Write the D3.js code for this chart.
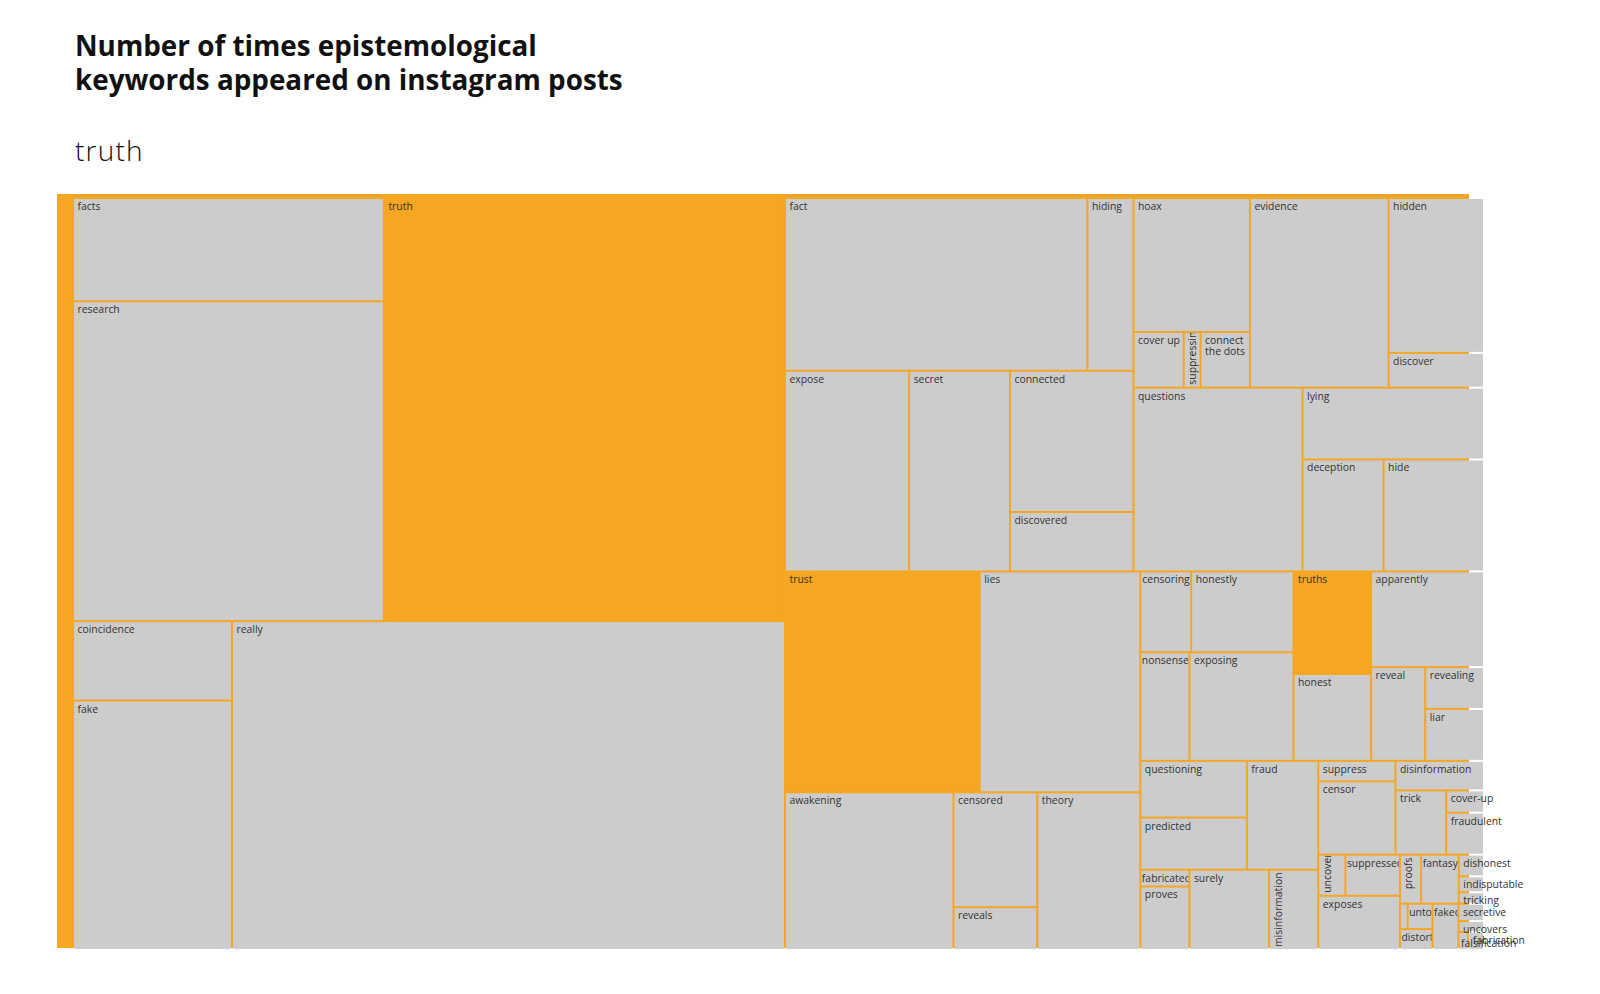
<!DOCTYPE html>
<html>
<head>
<meta charset="utf-8">
<script src="https://cdn.jsdelivr.net/npm/d3@7"></script>
<style>
  body { margin: 0; background: #fff; }
  svg { display: block; }
</style>
</head>
<body>
<svg id="chart" width="1600" height="994"></svg>
<script>
// ---- data (order matters: binary tiling keeps the given order) ----
const titleLines = ["Number of times epistemological", "keywords appeared on instagram posts"];
const subtitle = "truth";
const highlighted = ["truth", "trust", "truths"];

const keywords = [
  "facts", "research", "truth", "coincidence", "fake", "really",
  "fact", "hiding", "expose", "secret", "connected", "discovered",
  "hoax", "cover up", "suppressing", "connect the dots", "evidence", "hidden", "discover",
  "questions", "lying", "deception", "hide",
  "trust", "lies", "awakening", "censored", "reveals", "theory",
  "censoring", "honestly", "nonsense", "exposing", "truths", "honest",
  "apparently", "reveal", "revealing", "liar",
  "questioning", "predicted", "fraud", "fabricated", "proves", "surely", "misinformation",
  "suppress", "censor", "disinformation", "trick", "cover-up", "fraudulent",
  "uncover", "suppressed", "exposes",
  "proofs", "fantasy", "dishonest", "indisputable", "tricking",
  "(unlabelled)", "untold", "distort", "faked",
  "secretive", "uncovers", "falsification", "fabrication"
];

const counts = [
  31982, 99050, 169011, 12577, 39509, 181122,
  52035, 7926, 24825, 20160, 17373, 7312,
  15549, 2786, 932, 2736, 26185, 14724, 3307,
  30941, 12974, 9037, 11204,
  42848, 35358, 26457, 9584, 3574, 16192,
  4091, 8239, 5307, 11242, 7928, 6719,
  10763, 5049, 2448, 3041,
  6012, 5533, 7747, 818, 3102, 6376, 3928,
  1579, 5636, 2602, 3242, 841, 1580,
  1112, 2237, 4414,
  1035, 1839, 545, 400, 288,
  194, 630, 678, 1195,
  440, 280, 175, 281
];

// ---- styling ----
const ORANGE = "#F5A623";
const GRAY = "#CCCCCC";
const LABEL_FONT = "'Open Sans', sans-serif";

const svg = d3.select("#chart");
const defs = svg.append("defs");

// Title
const titleG = svg.append("g").attr("fill", "#111");
const tl = titleLines.map((line, i) =>
  titleG.append("text")
    .attr("x", 75)
    .attr("y", 56 + i * 34)
    .style("font-family", LABEL_FONT)
    .style("font-weight", 700)
    .style("font-size", "27px")
    .text(line)
);
const w2 = tl[1].node().getComputedTextLength();
const fs = Math.max(23, Math.min(28, 27 * 548 / w2));
tl.forEach(t => t.style("font-size", fs + "px"));

svg.append("text")
  .attr("x", 75)
  .attr("y", 161)
  .attr("fill", "#111")
  .style("font-family", LABEL_FONT)
  .style("font-weight", 300)
  .style("font-size", "28px")
  .style("letter-spacing", "1.2px")
  .text(subtitle);

// Background panel
svg.append("rect")
  .attr("x", 57).attr("y", 194)
  .attr("width", 1412).attr("height", 754)
  .attr("fill", ORANGE);

// Treemap
const W = 1409, H = 750;
const root = d3.hierarchy({ children: keywords.map((k, i) => ({ name: k, value: counts[i] })) })
  .sum(d => d.value || 0);

d3.treemap()
  .tile(d3.treemapBinary)
  .size([W, H])
  .paddingInner(2)(root);

const g = svg.append("g").attr("transform", "translate(74,199)");
const leaves = root.leaves();

g.append("g").selectAll("rect")
  .data(leaves)
  .join("rect")
  .attr("x", d => d.x0)
  .attr("y", d => d.y0)
  .attr("width", d => d.x1 - d.x0)
  .attr("height", d => d.y1 - d.y0)
  .attr("fill", d => highlighted.includes(d.data.name) ? ORANGE : GRAY);

const labels = g.append("g")
  .attr("fill", "#333")
  .style("font-family", LABEL_FONT)
  .style("font-size", "10.4px");

leaves.forEach((d, i) => {
  const w = d.x1 - d.x0, h = d.y1 - d.y0;
  if (w < 6.5) return;
  const lg = labels.append("g").attr("transform", `translate(${d.x0},${d.y0})`);
  const unclipped = d.x1 > W - 23;
  if (!unclipped) {
    defs.append("clipPath").attr("id", "clip" + i)
      .append("rect").attr("width", w).attr("height", h);
    lg.attr("clip-path", `url(#clip${i})`);
  }
  const name = d.data.name;
  const t = lg.append("text").text(name);
  const tw = t.node().getComputedTextLength();

  if (w < 12) {
    t.attr("x", 1.5).attr("y", h - 1.5);
  } else if (tw > w + 5 && h > 1.4 * w) {
    // vertical label reading bottom-to-top
    const start = Math.min(h - 2, tw + 2);
    t.attr("transform", `translate(11.5,${start}) rotate(-90)`);
  } else if (tw > w - 3.5 && name.includes(" ")) {
    // wrap words
    t.text(null);
    const words = name.split(" ");
    const lines = [];
    let cur = "";
    const probe = lg.append("text").attr("visibility", "hidden");
    words.forEach(wd => {
      const test = cur ? cur + " " + wd : wd;
      probe.text(test);
      if (probe.node().getComputedTextLength() > w - 3.5 && cur) {
        lines.push(cur);
        cur = wd;
      } else cur = test;
    });
    lines.push(cur);
    probe.remove();
    lines.forEach((ln, j) => {
      t.append("tspan").attr("x", 3.5).attr("y", 11 + j * 11.4).text(ln);
    });
  } else {
    const x = unclipped ? 3.5 : Math.max(0.5, Math.min(3.5, w - tw - 0.5));
    t.attr("x", x).attr("y", 11);
  }
});
</script>
</body>
</html>
